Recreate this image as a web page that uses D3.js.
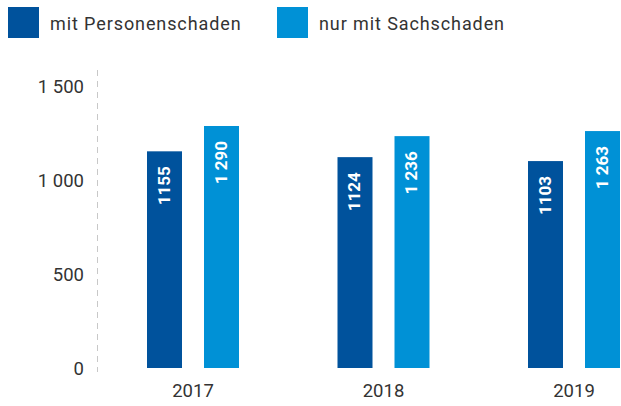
<!DOCTYPE html>
<html><head><meta charset="utf-8">
<script src="https://cdn.jsdelivr.net/npm/d3@7"></script>
<style>body{margin:0;background:#fff}svg{display:block}text{font-family:Roboto,"Liberation Sans",sans-serif}</style>
</head><body>
<script>
const years = ["2017","2018","2019"];
const seriesNames = ["mit Personenschaden","nur mit Sachschaden"];
const personen = [1155,1124,1103];
const sach = [1290,1236,1263];
const personenLabels = ["1155","1124","1103"];
const sachLabels = ["1 290","1 236","1 263"];
const yTicks = [0,500,1000,1500];
const yTickLabels = ["0","500","1 000","1 500"];
const colors = ["#00529C","#0091D6"];

const W=621,H=406;
const svg=d3.select("body").append("svg").attr("width",W).attr("height",H);
const y=d3.scaleLinear().domain([0,1500]).range([368,86.6]);
const x=d3.scaleBand().domain(years).range([97.75,669.25]);
const barW=35, gap=22;

svg.append("line").attr("x1",97.5).attr("x2",97.5).attr("y1",70).attr("y2",372)
  .attr("stroke","#c8c8c8").attr("stroke-width",1).attr("stroke-dasharray","6,5");
svg.selectAll(".yt").data(yTicks).enter().append("text")
  .attr("x",84).attr("y",d=>y(d)).attr("dy","0.36em").attr("text-anchor","end")
  .attr("font-size",18.5).attr("fill","#333").text((d,i)=>yTickLabels[i]);
svg.selectAll(".xt").data(years).enter().append("text")
  .attr("x",d=>x(d)+x.bandwidth()/2).attr("y",397).attr("text-anchor","middle")
  .attr("font-size",18.5).attr("fill","#333").text(d=>d);

const series=[personen,sach], labels=[personenLabels,sachLabels];
series.forEach((vals,s)=>{
  const off = s===0 ? -gap/2-barW : gap/2;
  const g=svg.append("g");
  g.selectAll("rect").data(vals).enter().append("rect")
    .attr("x",(d,i)=>x(years[i])+x.bandwidth()/2+off).attr("width",barW)
    .attr("y",d=>y(d)).attr("height",d=>y(0)-y(d)).attr("fill",colors[s]);
  g.selectAll("text").data(vals).enter().append("text")
    .attr("transform",(d,i)=>`translate(${x(years[i])+x.bandwidth()/2+off+barW/2+5},${y(d)+15}) rotate(-90)`)
    .attr("text-anchor","end").attr("font-size",17).attr("font-weight","bold").attr("fill","#fff")
    .text((d,i)=>labels[s][i]);
});

const lx=[8,277];
seriesNames.forEach((n,i)=>{
  svg.append("rect").attr("x",lx[i]).attr("y",7).attr("width",31).attr("height",31).attr("fill",colors[i]);
  svg.append("text").attr("x",lx[i]+42).attr("y",29.5).attr("font-size",18).attr("letter-spacing",0.9).attr("fill","#333").text(n);
});
</script>
</body></html>
